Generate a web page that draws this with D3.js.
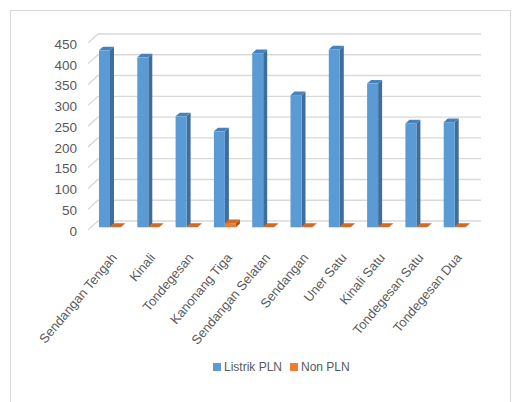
<!DOCTYPE html>
<html>
<head>
<meta charset="utf-8">
<script src="https://cdn.jsdelivr.net/npm/d3@7"></script>
<style>
  body { margin: 0; background: #fff; }
  text { font-family: "Liberation Sans", Arial, sans-serif; fill: #595959; }
</style>
</head>
<body>
<div id="mydiv"></div>
<script>
var categories = [
    "Sendangan Tengah", "Kinali", "Tondegesan", "Kanonang Tiga", "Sendangan Selatan",
    "Sendangan", "Uner Satu", "Kinali Satu", "Tondegesan Satu", "Tondegesan Dua"
];
var seriesNames = ["Listrik PLN", "Non PLN"];
var listrikPLN = [426, 409, 267, 231, 419, 318, 428, 346, 250, 253];
var nonPLN = [1, 1, 1, 10, 1, 1, 1, 1, 1, 1];
var yTicks = [0, 50, 100, 150, 200, 250, 300, 350, 400, 450];

var width = 513, height = 402;

// colours: front, side, top
var colors = {
    "Listrik PLN": ["#5b9bd5", "#3d6e9c", "#4a82b8"],
    "Non PLN": ["#ed7d31", "#a9561f", "#cf6a27"]
};

// depth of the 3d box (front -> back)
var dx = 10, dy = -9;
var f0 = 0.3, f1 = 0.7;

function main() {
    var svg = d3.select('#mydiv').append('svg')
        .attr('width', width)
        .attr('height', height);

    svg.append('rect')
        .attr('x', 10.5).attr('y', 10.5)
        .attr('width', 500).attr('height', 400)
        .attr('fill', '#fff')
        .attr('stroke', '#d9d9d9');

    var x = d3.scaleBand().domain(categories).range([88, 471]);
    var xSub = d3.scaleBand().domain(seriesNames).range([8, 30]);
    var y = d3.scaleLinear().domain([0, 450]).range([230, 43]);

    // gridlines on side wall + back wall
    svg.append('g').selectAll('path')
        .data(yTicks)
        .enter()
        .append('path')
        .attr('d', function (t) {
            var yy = y(t);
            return 'M' + [88, yy] + 'L' + [88 + dx, yy + dy] + 'L' + [471 + dx, yy + dy];
        })
        .attr('fill', 'none')
        .attr('stroke', '#d9d9d9')
        .attr('stroke-width', 1.4);

    svg.append('g').selectAll('text')
        .data(yTicks)
        .enter()
        .append('text')
        .attr('x', 77)
        .attr('y', function (t) { return y(t) + 1; })
        .attr('dy', '0.35em')
        .attr('text-anchor', 'end')
        .style('font-size', '13.5px')
        .text(function (t) { return t; });

    var rows = [];
    for (let i = 0; i < categories.length; i++) {
        rows.push({ cat: categories[i], series: "Listrik PLN", value: listrikPLN[i] });
        rows.push({ cat: categories[i], series: "Non PLN", value: nonPLN[i] });
    }

    var w = xSub.bandwidth();
    var ddx = (f1 - f0) * dx, ddy = (f1 - f0) * dy;

    var bars = svg.append('g').selectAll('g')
        .data(rows)
        .enter()
        .append('g');

    bars.each(function (d) {
        var g = d3.select(this);
        var x0 = x(d.cat) + xSub(d.series) + f0 * dx;
        var yb = y(0) + f0 * dy;
        var yt = y(d.value) + f0 * dy;
        var c = colors[d.series];

        g.append('path')
            .attr('d', 'M' + [x0 + w, yt] + 'L' + [x0 + w + ddx, yt + ddy] + 'L' + [x0 + w + ddx, yb + ddy] + 'L' + [x0 + w, yb] + 'Z')
            .attr('fill', c[1]);
        g.append('path')
            .attr('d', 'M' + [x0, yt] + 'L' + [x0 + w, yt] + 'L' + [x0 + w + ddx, yt + ddy] + 'L' + [x0 + ddx, yt + ddy] + 'Z')
            .attr('fill', c[2]);
        g.append('rect')
            .attr('x', x0).attr('y', yt)
            .attr('width', w).attr('height', yb - yt)
            .attr('fill', c[0]);
    });

    // category labels
    svg.append('g').selectAll('text')
        .data(categories)
        .enter()
        .append('text')
        .attr('transform', function (d) {
            return 'translate(' + (x(d) + x.bandwidth() / 2 + 7) + ',' + 255 + ') rotate(-50)';
        })
        .attr('text-anchor', 'end')
        .attr('dy', '0.35em')
        .style('font-size', '13px')
        .text(function (d) { return d; });

    // legend
    var legend = svg.append('g');
    var legX = [213, 290];
    seriesNames.forEach(function (s, i) {
        legend.append('rect')
            .attr('x', legX[i]).attr('y', 363)
            .attr('width', 8).attr('height', 8)
            .attr('fill', colors[s][0]);
        legend.append('text')
            .attr('x', legX[i] + 11).attr('y', 367)
            .attr('dy', '0.35em')
            .style('font-size', '12px')
            .text(s);
    });
}

main();
</script>
</body>
</html>
